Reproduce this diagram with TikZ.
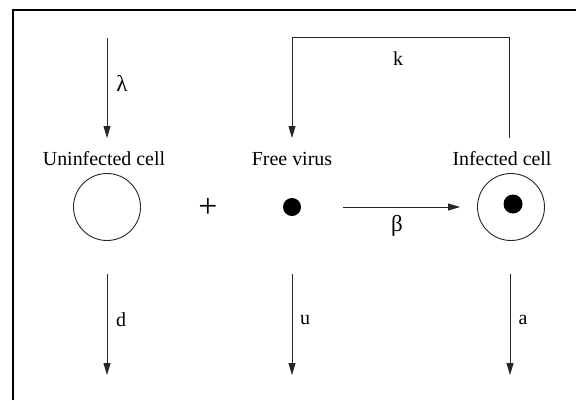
\documentclass[tikz,border=0pt]{standalone}
\usepackage{fontspec}
\setmainfont{Liberation Serif}
\usetikzlibrary{arrows.meta}
\begin{document}
\begin{tikzpicture}[x=1bp,y=-1bp,
  flow/.style={draw=black!85, line width=0.9bp, -{Triangle[length=12bp,width=7bp]}},
  wire/.style={draw=black!85, line width=0.9bp},
  lbl/.style={font=\fontsize{20}{23}\selectfont, inner sep=0pt},
  greek/.style={font=\fontsize{23}{26}\selectfont, inner sep=0pt},
  cell/.style={circle, draw=black!85, line width=0.9bp, minimum size=67bp, inner sep=0pt},
  dotnode/.style={circle, fill=black, minimum size=18bp, inner sep=0pt}]
\useasboundingbox (0,0) rectangle (576,400);
% frame
\draw[line width=2.2bp] (13,400) -- (13,10) -- (576,10);

% compartments
\node[cell] (uninf) at (107,207) {};
\node[dotnode] (virus) at (292,207) {};
\node[cell] (infected) at (511,207) {};
\node[dotnode, minimum size=19bp] (core) at (513,204) {};
\node[lbl, font=\fontsize{34}{36}\selectfont] (plus) at (208,208) {+};

% names
\node[lbl, anchor=base] (nameU) at (104,165) {Uninfected cell};
\node[lbl, anchor=base] (nameV) at (292,165) {Free virus};
\node[lbl, anchor=base] (nameI) at (502,165) {Infected cell};

% arrow end points
\coordinate (lamTop) at (107,38);
\coordinate (lamEnd) at (107,138);
\coordinate (kFrom) at (509,138);
\coordinate (kUpR) at (509,37);
\coordinate (kUpL) at (292,37);
\coordinate (kEnd) at (292,138);
\coordinate (dFrom) at (107,274);
\coordinate (dEnd) at (107,375);
\coordinate (uFrom) at (292,274);
\coordinate (uEnd) at (292,375);
\coordinate (aFrom) at (510,274);
\coordinate (aEnd) at (510,375);

% production of uninfected cells
\draw[flow] (lamTop) -- (lamEnd);
\node[greek] (lam) at (122,83) {λ};

% virus release from infected cells
\draw[wire] (kFrom) -- (kUpR) -- (kUpL);
\draw[flow] (kUpL) -- (kEnd);
\node[lbl] (klab) at (398,59) {k};

% infection
\draw[flow] ([xshift=42bp]virus.east) -- ([xshift=-17bp]infected.west);
\node[greek] (beta) at (397,226) {β};

% decay
\draw[flow] (dFrom) -- (dEnd);
\node[lbl] (dlab) at (121,320) {d};
\draw[flow] (uFrom) -- (uEnd);
\node[lbl] (ulab) at (305,320) {u};
\draw[flow] (aFrom) -- (aEnd);
\node[lbl] (alab) at (523,320) {a};
\end{tikzpicture}
\end{document}
